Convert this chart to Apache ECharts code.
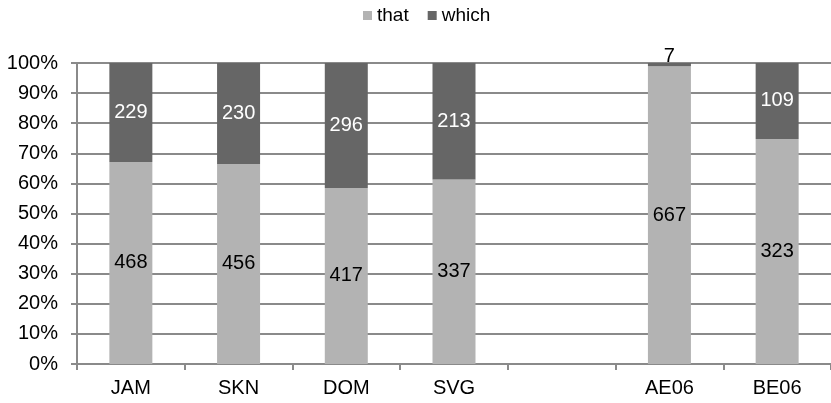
<!DOCTYPE html>
<html>
<head>
<meta charset="utf-8">
<script src="https://cdn.jsdelivr.net/npm/echarts@6/dist/echarts.min.js"></script>
<style>
  html, body { margin: 0; padding: 0; background: #fff; }
  #chart { width: 831px; height: 403px; }
</style>
</head>
<body>
<div id="chart"></div>
<script>
// Counts of relative "that" vs "which" per corpus (blank slot separates the groups)
const categories = ['JAM', 'SKN', 'DOM', 'SVG', '', 'AE06', 'BE06'];
const thatCounts = [468, 456, 417, 337, null, 667, 323];
const whichCounts = [229, 230, 296, 213, null, 7, 109];
const yTicks = [0, 10, 20, 30, 40, 50, 60, 70, 80, 90, 100];

const FONT = '"Liberation Sans", Arial, sans-serif';

// Convert counts to shares of each column's total (100% stacked)
function share(counts, i) {
  const a = thatCounts[i], b = whichCounts[i];
  if (a == null || b == null) return null;
  return counts[i] / (a + b) * 100;
}

const thatData = categories.map((c, i) =>
  thatCounts[i] == null ? null : { value: share(thatCounts, i), count: thatCounts[i] });

const whichData = categories.map((c, i) => {
  if (whichCounts[i] == null) return null;
  const item = { value: share(whichCounts, i), count: whichCounts[i] };
  // Too thin to hold its label: put it above the column
  if (item.value < 5) item.label = { position: 'top', color: '#000', distance: -3 };
  return item;
});

const chart = echarts.init(document.getElementById('chart'), null, { renderer: 'canvas' });

chart.setOption({
  animation: false,
  textStyle: { fontFamily: FONT },
  legend: {
    top: 1,
    left: 358,
    itemWidth: 9,
    itemHeight: 9,
    itemGap: 19,
    icon: 'rect',
    textStyle: { fontFamily: FONT, fontSize: 19, color: '#000' },
    data: ['that', 'which']
  },
  grid: { left: 77, right: -12, top: 63, bottom: 39, containLabel: false },
  xAxis: {
    type: 'category',
    data: categories,
    axisLine: { lineStyle: { color: '#8a8a8a', width: 2 } },
    axisTick: { show: true, length: 6, lineStyle: { color: '#8a8a8a', width: 2 } },
    axisLabel: { color: '#000', fontSize: 20, fontFamily: FONT, margin: 14 }
  },
  yAxis: {
    type: 'value',
    min: yTicks[0],
    max: yTicks[yTicks.length - 1],
    interval: 10,
    axisLine: { show: true, lineStyle: { color: '#8a8a8a', width: 2 } },
    axisTick: { show: true, length: 6, lineStyle: { color: '#8a8a8a', width: 2 } },
    splitLine: { show: true, lineStyle: { color: '#8a8a8a', width: 2 } },
    axisLabel: { color: '#000', fontSize: 20, fontFamily: FONT, margin: 19, formatter: '{value}%' }
  },
  series: [
    {
      name: 'that',
      type: 'bar',
      stack: 'total',
      barWidth: 43,
      itemStyle: { color: '#b3b3b3' },
      label: {
        show: true, position: 'inside', color: '#000', fontSize: 20, fontFamily: FONT,
        formatter: p => p.data ? String(p.data.count) : ''
      },
      data: thatData
    },
    {
      name: 'which',
      type: 'bar',
      stack: 'total',
      barWidth: 43,
      itemStyle: { color: '#666666' },
      label: {
        show: true, position: 'inside', color: '#fff', fontSize: 20, fontFamily: FONT,
        formatter: p => p.data ? String(p.data.count) : ''
      },
      data: whichData
    }
  ]
});
</script>
</body>
</html>
